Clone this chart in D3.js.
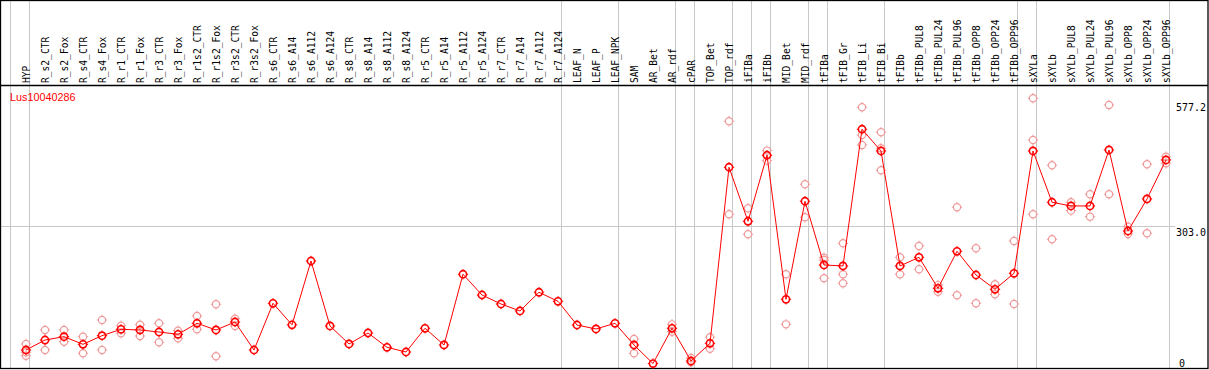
<!DOCTYPE html>
<html>
<head>
<meta charset="utf-8">
<script src="https://cdn.jsdelivr.net/npm/d3@7"></script>
<style>
  body { margin: 0; background: #fff; }
  svg { display: block; }
  .lab { font-family: "DejaVu Sans Mono", monospace; font-size: 9.6px; fill: #000; }
  .ylab { font-family: "DejaVu Sans Mono", monospace; font-size: 10px; fill: #000; }
</style>
</head>
<body>
<svg width="1209" height="370"></svg>
<script>

var gene = "Lus10040286";

var samples = ["HYP", "R_s2_CTR", "R_s2_Fox", "R_s4_CTR", "R_s4_Fox", "R_r1_CTR", "R_r1_Fox",
    "R_r3_CTR", "R_r3_Fox", "R_r1s2_CTR", "R_r1s2_Fox", "R_r3s2_CTR", "R_r3s2_Fox",
    "R_s6_CTR", "R_s6_A14", "R_s6_A112", "R_s6_A124", "R_s8_CTR", "R_s8_A14", "R_s8_A112", "R_s8_A124",
    "R_r5_CTR", "R_r5_A14", "R_r5_A112", "R_r5_A124", "R_r7_CTR", "R_r7_A14", "R_r7_A112", "R_r7_A124",
    "LEAF_N", "LEAF_P", "LEAF_NPK", "SAM", "AR_Bet", "AR_rdf", "cPAR", "TOP_Bet", "TOP_rdf",
    "iFIBa", "iFIBb", "MID_Bet", "MID_rdf", "tFIBa", "tFIB_Gr", "tFIB_Li", "tFIB_Bi",
    "tFIBb", "tFIBb_PUL8", "tFIBb_PUL24", "tFIBb_PUL96", "tFIBb_OPP8", "tFIBb_OPP24", "tFIBb_OPP96",
    "sXYLa", "sXYLb", "sXYLb_PUL8", "sXYLb_PUL24", "sXYLb_PUL96", "sXYLb_OPP8", "sXYLb_OPP24", "sXYLb_OPP96"];

// mean expression per sample
var means = [30.7, 52.6, 59.9, 43.2, 62.1, 76.1, 74.6, 70.2, 65.1, 89.3, 74.6, 92.1, 30.7,
    133.1, 86.0, 225.9, 83.4, 43.9, 68.0, 36.6, 26.3,
    78.3, 41.7, 196.8, 151.3, 131.6, 116.3, 157.3, 137.5,
    85.5, 76.8, 89.3, 41.7, 1.0, 78.3, 6.6, 45.4, 431.5,
    313.0, 457.8, 141.9, 356.9, 217.2, 215.0, 514.8, 467.2,
    215.0, 234.0, 166.0, 247.2, 195.2, 163.8, 198.9,
    467.2, 354.7, 346.6, 346.6, 469.4, 291.7, 362.0, 447.5];

// replicate values per sample (empty where none are shown)
var reps = [[43.9, 25.7, 18.2], [74.6, 30.7], [74.6, 48.9], [59.9, 23.5], [96.5, 30.7],
    [84.0, 67.3], [86.2, 61.4], [89.3, 47.6], [73.0, 56.4], [105.3, 76.1], [131.0, 16.9],
    [99.4, 83.4], [],
    [], [], [], [], [], [], [], [],
    [], [], [], [], [], [], [], [],
    [], [], [], [54.8, 23.5], [], [87.0, 70.8], [13.0, 4.0], [58.6, 33.6], [532.4, 328.4],
    [341.5, 284.5], [468.0, 446.0], [196.8, 87.0], [394.2, 321.8], [233.2, 228.0, 188.0],
    [264.7, 196.8, 177.0], [563.0, 502.0, 480.4], [508.2, 473.0, 424.9],
    [234.0, 196.8], [258.8, 207.7], [173.0, 158.6], [343.7, 150.7], [253.8, 133.1],
    [174.8, 152.9], [269.8, 131.6],
    [582.8, 491.3, 328.4], [435.8, 273.5], [354.7, 336.3], [372.2, 323.1], [568.0, 372.2],
    [301.2, 285.2], [438.0, 286.7], [454.7, 440.2]];

// sample index where a new group starts (gray separators)
var groupStarts = ["HYP", "R_s2_CTR", "LEAF_N", "SAM", "cPAR", "TOP_Bet", "iFIBa", "iFIBb",
    "MID_Bet", "tFIBa", "tFIB_Gr", "tFIBb", "sXYLa", "sXYLb"];

var yTicks = [0, 303.0, 577.2];
var yMax = 577.2;

var svg = d3.select("svg"),
    W = 1209, H = 370,
    headerY = 85.5, bottomY = 368.5;

var x = d3.scaleBand().domain(samples).range([11, 11 + 19 * samples.length]).padding(0);
var y = d3.scaleLinear().domain([0, yMax]).range([364, 100.8]);

function cx(name) { return x(name) + 15; }

// horizontal gridline at the middle tick
svg.append("g").selectAll("line")
    .data(yTicks.filter(function(d) { return d > 0 && d < yMax; }))
    .enter().append("line")
    .attr("x1", 1).attr("x2", 1175)
    .attr("y1", function(d) { return Math.round(y(d)) + 0.5; })
    .attr("y2", function(d) { return Math.round(y(d)) + 0.5; })
    .attr("stroke", "#c8c8c8").attr("stroke-width", 1);

// group separators
var seps = groupStarts.map(function(s) { return x(s); }).concat([x.range()[1]]);
svg.append("g").selectAll("line")
    .data(seps)
    .enter().append("line")
    .attr("x1", function(d) { return Math.round(d) - 0.5; })
    .attr("x2", function(d) { return Math.round(d) - 0.5; })
    .attr("y1", 0).attr("y2", bottomY)
    .attr("stroke", "#c8c8c8").attr("stroke-width", 1);

// frame
svg.append("rect")
    .attr("x", 0.5).attr("y", 0.5)
    .attr("width", 1207.5).attr("height", bottomY - 0.5)
    .attr("fill", "none").attr("stroke", "#000").attr("stroke-width", 1.3);
svg.append("line")
    .attr("x1", 0).attr("x2", 1208)
    .attr("y1", headerY).attr("y2", headerY)
    .attr("stroke", "#000").attr("stroke-width", 1.3);

// sample labels
svg.append("g").selectAll("text")
    .data(samples)
    .enter().append("text")
    .attr("class", "lab")
    .attr("transform", function(d) { return "translate(" + (x(d) + 18.5) + "," + 83 + ") rotate(-90)"; })
    .text(function(d) { return d; });

// y labels
svg.append("g").selectAll("text")
    .data(yTicks)
    .enter().append("text")
    .attr("class", "ylab")
    .attr("x", function(d) { return d === 0 ? 1179 : 1176; })
    .attr("y", function(d) { return Math.min(y(d) + 10, 367); })
    .text(function(d) { return d === 0 ? "0" : d.toFixed(1); });

// gene name
svg.append("text")
    .attr("x", 10).attr("y", 101)
    .attr("fill", "#ff0000")
    .style("font-family", "'Liberation Sans', Arial, sans-serif")
    .style("font-size", "10.8px")
    .text(gene);

function marker(g, px, py, col, sw) {
    g.append("circle")
        .attr("cx", px).attr("cy", py).attr("r", 3.6)
        .attr("fill", "none").attr("stroke", col).attr("stroke-width", sw);
    [[0, -1], [0, 1], [-1, 0], [1, 0]].forEach(function(t) {
        g.append("line")
            .attr("x1", px + t[0] * 4).attr("y1", py + t[1] * 4)
            .attr("x2", px + t[0] * 5.2).attr("y2", py + t[1] * 5.2)
            .attr("stroke", col).attr("stroke-width", 1);
    });
}

// replicates
var repG = svg.append("g");
samples.forEach(function(s, i) {
    reps[i].forEach(function(v) {
        marker(repG, cx(s), y(v), "#ef9a9a", 1.2);
    });
});

// mean line
var line = d3.line()
    .x(function(d, i) { return cx(samples[i]); })
    .y(function(d) { return y(d); });

svg.append("path")
    .datum(means)
    .attr("d", line)
    .attr("fill", "none")
    .attr("stroke", "#ff0000")
    .attr("stroke-width", 1);

var meanG = svg.append("g");
means.forEach(function(v, i) {
    marker(meanG, cx(samples[i]), y(v), "#ff0000", 1.6);
});

</script>
</body>
</html>
